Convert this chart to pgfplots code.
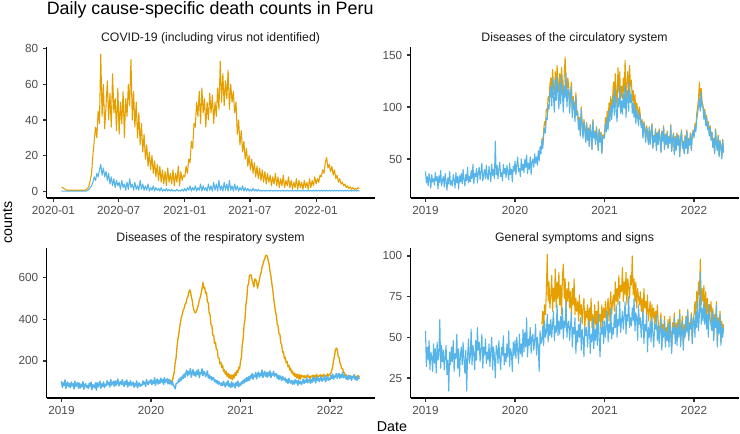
\documentclass[border=0pt]{standalone}
\usepackage{pgfplots}
\pgfplotsset{compat=1.18}
\usepackage{fontspec}
\setmainfont{Liberation Sans}
\definecolor{cblue}{HTML}{56B4E9}
\definecolor{corange}{HTML}{E69F00}
\definecolor{tickgray}{HTML}{4D4D4D}
\definecolor{stripgray}{HTML}{1A1A1A}
\pgfplotsset{
  panel/.style={
    scale only axis, width=246pt,
    axis x line*=bottom, axis y line*=left,
    axis line style={draw=black, line width=0.9pt},
    tick align=outside, major tick length=2.7pt,
    tick style={draw=black!80, line width=0.9pt},
    minor tick num=0,
    tick label style={font=\fontsize{8.8}{10}\selectfont, text=tickgray},
    /pgf/number format/assume math mode=true,
    every axis title/.style={at={(0.5,1)}, anchor=base, yshift=4.6pt,
      font=\fontsize{9.2}{11}\selectfont, text=stripgray},
    clip=true,
    every axis plot/.append style={line width=0.8pt, line join=round, mark=none},
  },
  yrs/.style={xmin=-0.167, xmax=3.497, xtick={0,1,2,3}, xticklabels={2019,2020,2021,2022}},
}
\begin{document}
\begin{tikzpicture}
\path (0,0) rectangle (555pt,325.5pt);
\node[anchor=base west, inner sep=0pt, font=\fontsize{13.4}{15}\selectfont] at (34.9pt,314.3pt) {Daily cause-specific death counts in Peru};
\node[anchor=base, rotate=90, inner sep=0pt, font=\fontsize{10.7}{12}\selectfont] at (9pt,158.6pt) {counts};
\node[anchor=base, inner sep=0pt, font=\fontsize{10.7}{12}\selectfont] at (294pt,1.6pt) {Date};

% ---------- COVID-19 (x = years since 2020-01-01) ----------
\begin{axis}[panel, at={(34.9pt,177pt)}, anchor=south west, height=113pt,
  title={COVID-19 (including virus not identified)},
  xmin=-0.053, xmax=2.445, ymin=-3.85, ymax=80.85,
  xtick={0,0.497,1,1.496,2}, xticklabels={2020-01,2020-07,2021-01,2021-07,2022-01},
  ytick={0,20,40,60,80}]
\addplot[corange] table[x expr=0.06+\coordindex*0.01, y index=0, header=false, row sep=\\] {
2\\2\\1.5\\1\\
0.5\\0.5\\0.5\\0.5\\0.5\\0.5\\0.5\\0.5\\0.5\\0.5\\
0.5\\0.5\\0.5\\0.5\\0.5\\1\\1.5\\3\\6\\10\\
20\\28\\36\\30\\45\\38\\77\\42\\60\\35\\
48\\62\\40\\55\\36\\66\\44\\52\\34\\58\\
32\\50\\38\\56\\30\\52\\42\\60\\48\\74\\
40\\56\\36\\50\\30\\44\\26\\38\\22\\32\\
18\\26\\14\\22\\12\\20\\10\\17\\8\\15\\
6\\14\\5\\12\\4\\11\\3\\13\\5\\10\\
4\\12\\3\\10\\5\\14\\3\\11\\6\\9\\
8\\14\\10\\18\\16\\28\\24\\38\\36\\50\\
42\\56\\38\\58\\44\\52\\36\\50\\40\\55\\
44\\54\\38\\50\\42\\58\\46\\73\\50\\66\\
48\\62\\52\\68\\46\\60\\50\\56\\44\\50\\
32\\40\\26\\34\\22\\28\\18\\24\\14\\20\\
12\\18\\10\\16\\8\\14\\7\\13\\6\\12\\
5\\11\\4\\10\\5\\9\\3\\8\\4\\10\\
3\\8\\2\\7\\3\\9\\2\\6\\3\\8\\
2\\6\\1\\5\\2\\7\\1\\6\\2\\5\\
1\\6\\2\\5\\1\\7\\2\\6\\3\\8\\
4\\7\\5\\9\\8\\12\\10\\16\\19\\13\\
15\\11\\14\\9\\12\\7\\9\\5\\7\\4\\
5\\3\\4\\2\\3\\1.5\\2.5\\1\\2\\1\\
1.5\\1\\2\\1.5\\
};
\addplot[cblue] table[x expr=0.06+\coordindex*0.01, y index=0, header=false, row sep=\\] {
0\\0\\0\\0\\
0\\0\\0\\0\\0\\0\\0\\0\\0\\0\\
0\\0\\0\\0\\0\\0\\0.5\\1\\2\\3\\
5\\8\\6\\10\\8\\12\\15\\9\\13\\8\\
11\\6\\10\\4\\8\\3\\7\\2\\6\\3\\
5\\1\\6\\2\\4\\0.5\\5\\1\\7\\2\\
4\\0.5\\5\\1\\3\\0.5\\6\\1\\4\\0.5\\
3\\0.5\\4\\0\\2\\0.5\\3\\0\\2\\0.5\\
1.5\\0\\2\\0\\1\\0\\1.5\\0\\1\\0\\
1\\0\\0.5\\0\\1\\0\\0.5\\0\\1\\0\\
1.5\\0\\2\\0.5\\3\\0\\2\\0.5\\3\\0\\
2\\0.5\\4\\0\\3\\0.5\\2\\0\\4\\0.5\\
3\\0\\5\\0.5\\4\\0\\6\\0.5\\3\\0\\
5\\0.5\\4\\0\\6\\0.5\\3\\0\\4\\0.5\\
3\\0\\2\\0.5\\3\\0\\2\\0\\1.5\\0\\
1\\0\\1.5\\0\\1\\0\\1\\0\\0.5\\0\\
0.5\\0\\0.5\\0\\0.5\\0\\0.5\\0\\0.5\\0\\
0.5\\0\\0.5\\0\\0.5\\0\\0.5\\0\\0.5\\0\\
0.5\\0\\0.5\\0\\0.5\\0\\0.5\\0\\0.5\\0\\
0.5\\0\\0.5\\0\\0.5\\0\\0.5\\0\\0.5\\0\\
0.5\\0\\0.5\\0\\0.5\\0\\0.5\\0\\0.5\\0\\
0.5\\0\\0.5\\0\\0.5\\0\\0.5\\0\\0.5\\0\\
0.5\\0\\0.5\\0\\0.5\\0\\0.5\\0\\0.5\\0\\
0.5\\0\\0.5\\0\\
};
\end{axis}

% ---------- Circulatory (x = years since 2019-01-01) ----------
\begin{axis}[panel, yrs, at={(307.9pt,177pt)}, anchor=south west, height=113pt,
  title={Diseases of the circulatory system},
  ymin=12.5, ymax=157.4, ytick={50,100,150}]
\addplot[corange] table[x expr=1.30+\coordindex*0.01, y index=0, header=false, row sep=\\] {
70\\64\\78\\86\\82\\98\\95\\110\\106\\122\\
128\\114\\136\\120\\112\\134\\118\\140\\124\\114\\
132\\116\\138\\122\\110\\130\\148\\126\\114\\128\\
120\\98\\114\\124\\94\\110\\104\\90\\114\\96\\
96\\80\\90\\74\\100\\84\\72\\88\\80\\68\\
85\\69\\80\\63\\83\\75\\60\\88\\71\\77\\
65\\81\\71\\59\\79\\67\\76\\56\\73\\71\\
75\\90\\82\\96\\84\\104\\92\\110\\96\\108\\
124\\106\\132\\112\\100\\138\\114\\134\\108\\120\\
108\\128\\114\\145\\104\\122\\134\\112\\140\\120\\
126\\106\\116\\100\\112\\94\\104\\98\\88\\100\\
92\\82\\88\\72\\86\\80\\68\\82\\76\\66\\
81\\65\\76\\84\\61\\73\\67\\79\\59\\76\\
65\\79\\71\\57\\77\\68\\82\\60\\74\\65\\
77\\61\\72\\66\\83\\58\\69\\75\\55\\72\\
59\\75\\64\\73\\53\\70\\78\\61\\67\\56\\
73\\61\\78\\56\\70\\64\\75\\59\\73\\78\\
72\\84\\80\\94\\100\\108\\124\\104\\118\\104\\
102\\90\\98\\84\\92\\80\\86\\74\\82\\70\\
76\\62\\70\\56\\79\\65\\59\\73\\53\\68\\
63\\51\\69\\57\\
};
\addplot[cblue] table[x expr=\coordindex*0.01, y index=0, header=false, row sep=\\] {
38\\27\\33\\24\\36\\30\\22\\35\\28\\31\\
25\\37\\29\\33\\21\\34\\27\\39\\24\\30\\
33\\23\\36\\28\\20\\32\\26\\38\\25\\29\\
24\\35\\30\\22\\37\\27\\33\\21\\34\\28\\
36\\26\\40\\30\\24\\35\\29\\42\\27\\33\\
28\\39\\31\\45\\26\\36\\33\\41\\27\\37\\
42\\30\\38\\46\\29\\35\\40\\31\\44\\33\\
30\\43\\36\\28\\45\\34\\40\\31\\67\\35\\
44\\31\\40\\47\\33\\37\\29\\45\\36\\41\\
32\\44\\37\\30\\46\\35\\40\\28\\43\\38\\
48\\35\\44\\52\\38\\41\\33\\50\\39\\45\\
37\\50\\42\\54\\36\\46\\40\\52\\35\\47\\
50\\42\\55\\46\\52\\44\\58\\48\\62\\55\\
68\\60\\72\\80\\75\\90\\88\\102\\98\\112\\
120\\101\\128\\109\\95\\126\\106\\130\\112\\98\\
123\\103\\130\\112\\95\\120\\109\\132\\100\\117\\
116\\94\\110\\120\\90\\106\\100\\86\\110\\92\\
94\\78\\88\\72\\98\\82\\70\\86\\78\\66\\
84\\68\\79\\62\\82\\74\\59\\87\\70\\76\\
64\\80\\70\\58\\78\\66\\75\\55\\72\\70\\
70\\84\\76\\90\\78\\96\\86\\102\\88\\100\\
111\\92\\117\\97\\86\\108\\100\\120\\94\\106\\
93\\113\\99\\121\\90\\107\\116\\96\\124\\104\\
112\\94\\104\\90\\102\\84\\97\\90\\82\\94\\
90\\80\\86\\70\\84\\78\\66\\80\\74\\64\\
80\\64\\75\\83\\60\\72\\66\\78\\58\\75\\
64\\78\\70\\56\\76\\67\\81\\59\\73\\64\\
76\\60\\71\\65\\82\\57\\68\\74\\54\\71\\
58\\74\\63\\72\\52\\69\\77\\60\\66\\55\\
72\\60\\77\\55\\69\\63\\74\\58\\72\\77\\
70\\82\\76\\88\\94\\100\\108\\96\\114\\100\\
100\\88\\96\\82\\90\\78\\84\\72\\80\\68\\
75\\61\\69\\55\\78\\64\\58\\72\\52\\67\\
62\\50\\68\\56\\
};
\end{axis}

% ---------- Respiratory ----------
\begin{axis}[panel, yrs, at={(34.9pt,27pt)}, anchor=south west, height=112.5pt,
  title={Diseases of the respiratory system},
  ymin=22, ymax=743, ytick={200,400,600}]
\addplot[corange, line width=1.0pt] table[x expr=1.20+\coordindex*0.01, y index=0, header=false, row sep=\\] {
102\\94\\108\\96\\104\\131\\144\\191\\214\\266\\
306\\326\\361\\386\\411\\424\\446\\452\\472\\476\\
498\\506\\524\\542\\536\\510\\492\\462\\442\\432\\
432\\442\\456\\472\\492\\506\\526\\546\\578\\550\\
554\\524\\530\\484\\480\\430\\422\\374\\370\\324\\
324\\284\\290\\256\\254\\216\\214\\186\\194\\168\\
180\\150\\158\\136\\150\\126\\140\\118\\134\\114\\
132\\110\\134\\118\\144\\130\\154\\144\\170\\162\\
198\\220\\280\\310\\374\\400\\470\\500\\560\\572\\
610\\614\\612\\588\\572\\556\\594\\592\\578\\550\\
568\\588\\612\\624\\652\\662\\682\\688\\708\\706\\
704\\682\\662\\628\\608\\572\\542\\502\\472\\438\\
420\\376\\368\\330\\328\\286\\278\\242\\244\\212\\
218\\190\\198\\172\\180\\156\\166\\142\\152\\132\\
142\\124\\138\\118\\136\\114\\134\\112\\132\\126\\
122\\130\\118\\128\\124\\134\\120\\126\\116\\128\\
124\\132\\118\\130\\122\\136\\120\\128\\126\\134\\
122\\132\\126\\136\\124\\130\\128\\138\\126\\134\\
138\\140\\158\\174\\204\\224\\254\\262\\256\\222\\
218\\192\\182\\164\\164\\146\\144\\130\\134\\124\\
124\\130\\120\\128\\118\\126\\122\\132\\120\\126\\
122\\130\\124\\128\\
};
\addplot[cblue, line width=1.1pt] table[x expr=\coordindex*0.01, y index=0, header=false, row sep=\\] {
103\\73\\94\\82\\109\\68\\88\\98\\76\\91\\
72\\99\\81\\90\\66\\102\\78\\87\\96\\69\\
94\\70\\88\\76\\100\\64\\85\\91\\73\\82\\
68\\92\\77\\98\\62\\86\\80\\71\\95\\59\\
96\\75\\87\\102\\69\\90\\78\\99\\72\\87\\
81\\105\\87\\96\\75\\111\\84\\93\\102\\78\\
104\\83\\98\\113\\80\\92\\101\\86\\110\\89\\
78\\102\\87\\108\\75\\96\\84\\105\\81\\93\\
98\\74\\92\\80\\104\\71\\89\\95\\77\\86\\
83\\104\\89\\98\\77\\110\\92\\86\\104\\95\\
110\\86\\104\\92\\119\\83\\101\\113\\89\\107\\
93\\117\\99\\111\\87\\120\\96\\108\\114\\90\\
112\\90\\104\\86\\100\\80\\78\\66\\90\\94\\
94\\112\\100\\120\\108\\128\\116\\138\\122\\142\\
155\\128\\149\\137\\164\\122\\143\\158\\131\\146\\
126\\153\\135\\159\\120\\144\\138\\162\\129\\150\\
143\\124\\138\\152\\118\\132\\114\\126\\108\\120\\
118\\100\\109\\94\\106\\88\\100\\91\\82\\94\\
81\\102\\87\\75\\96\\84\\105\\78\\90\\72\\
100\\76\\94\\85\\70\\97\\82\\103\\76\\91\\
82\\100\\90\\108\\94\\114\\100\\120\\104\\124\\
106\\130\\118\\139\\112\\132\\124\\145\\114\\136\\
146\\122\\140\\128\\156\\120\\138\\150\\126\\144\\
122\\146\\128\\152\\120\\140\\132\\150\\126\\138\\
138\\117\\132\\111\\129\\120\\105\\126\\114\\108\\
118\\98\\110\\92\\116\\100\\94\\107\\88\\104\\
89\\110\\95\\104\\83\\107\\92\\101\\86\\98\\
113\\92\\107\\98\\119\\95\\104\\113\\92\\110\\
98\\122\\104\\116\\95\\125\\107\\119\\101\\113\\
124\\102\\118\\109\\130\\100\\115\\124\\106\\118\\
110\\131\\116\\137\\113\\128\\122\\140\\116\\131\\
140\\116\\134\\122\\146\\119\\131\\125\\113\\128\\
110\\131\\116\\128\\107\\125\\119\\134\\110\\122\\
107\\125\\115\\119\\
};
\end{axis}

% ---------- General symptoms ----------
\begin{axis}[panel, yrs, at={(307.9pt,27pt)}, anchor=south west, height=112.5pt,
  title={General symptoms and signs},
  ymin=12.7, ymax=104.9, ytick={25,50,75,100}]
\addplot[corange] table[x expr=1.30+\coordindex*0.01, y index=0, header=false, row sep=\\] {
58\\66\\54\\70\\64\\78\\101\\72\\84\\68\\
76\\88\\66\\80\\72\\92\\68\\84\\74\\90\\
70\\82\\64\\88\\95\\74\\86\\66\\80\\72\\
84\\68\\78\\62\\80\\70\\86\\64\\74\\66\\
72\\60\\76\\64\\70\\58\\68\\74\\56\\66\\
62\\70\\54\\68\\60\\74\\56\\64\\52\\70\\
58\\66\\52\\72\\60\\64\\55\\70\\58\\68\\
62\\72\\58\\68\\74\\60\\70\\78\\64\\72\\
76\\66\\84\\72\\80\\70\\88\\74\\82\\78\\
93\\72\\84\\76\\90\\70\\86\\80\\74\\88\\
82\\100\\76\\86\\72\\84\\68\\80\\74\\70\\
78\\66\\74\\62\\80\\68\\72\\64\\76\\60\\
66\\72\\58\\70\\62\\68\\56\\66\\60\\70\\
60\\49\\57\\65\\45\\58\\53\\63\\47\\56\\
51\\61\\47\\63\\53\\43\\59\\55\\65\\49\\
59\\48\\61\\53\\67\\47\\57\\63\\45\\58\\
51\\63\\54\\67\\49\\59\\56\\65\\47\\61\\
64\\72\\60\\78\\68\\84\\76\\98\\70\\80\\
72\\82\\66\\78\\64\\74\\60\\70\\66\\72\\
56\\68\\50\\64\\58\\72\\46\\62\\54\\66\\
47\\60\\52\\58\\
};
\addplot[cblue] table[x expr=\coordindex*0.01, y index=0, header=false, row sep=\\] {
54\\32\\44\\36\\48\\30\\41\\38\\29\\46\\
34\\43\\28\\47\\36\\40\\61\\31\\45\\35\\
42\\30\\38\\45\\27\\36\\17\\41\\33\\44\\
35\\48\\29\\40\\37\\52\\31\\43\\26\\39\\
44\\33\\47\\36\\28\\42\\17\\38\\49\\34\\
38\\55\\33\\45\\40\\30\\48\\36\\56\\42\\
47\\35\\43\\52\\31\\44\\39\\49\\34\\41\\
36\\46\\32\\42\\50\\30\\44\\38\\25\\45\\
43\\34\\48\\37\\30\\44\\39\\51\\33\\40\\
35\\46\\38\\54\\32\\43\\40\\29\\47\\39\\
48\\37\\50\\42\\34\\52\\40\\46\\38\\55\\
41\\53\\44\\62\\38\\49\\45\\56\\40\\50\\
52\\42\\48\\58\\39\\50\\44\\29\\54\\46\\
48\\57\\45\\60\\50\\53\\64\\47\\58\\51\\
61\\50\\58\\66\\48\\57\\53\\70\\51\\60\\
52\\63\\55\\68\\49\\60\\56\\72\\50\\58\\
60\\48\\57\\65\\44\\56\\52\\62\\40\\54\\
47\\58\\50\\62\\42\\55\\49\\38\\57\\51\\
56\\44\\53\\60\\40\\52\\47\\62\\43\\55\\
48\\58\\45\\64\\50\\38\\56\\52\\60\\46\\
60\\50\\57\\66\\47\\58\\53\\68\\49\\56\\
52\\64\\56\\70\\50\\61\\57\\72\\53\\60\\
66\\55\\63\\72\\52\\64\\60\\75\\56\\62\\
57\\68\\60\\74\\54\\65\\62\\48\\70\\58\\
62\\50\\59\\66\\46\\58\\54\\64\\41\\56\\
50\\60\\47\\62\\52\\44\\58\\55\\64\\48\\
57\\46\\54\\62\\42\\55\\50\\60\\44\\53\\
48\\58\\44\\60\\50\\40\\56\\52\\62\\46\\
56\\45\\58\\50\\64\\44\\54\\60\\42\\55\\
50\\62\\53\\66\\48\\58\\55\\64\\46\\60\\
62\\50\\66\\56\\72\\54\\64\\90\\58\\68\\
60\\72\\58\\68\\55\\64\\50\\70\\62\\57\\
54\\66\\48\\62\\56\\70\\44\\60\\52\\64\\
45\\58\\50\\56\\
};
\end{axis}
\end{tikzpicture}
\end{document}
